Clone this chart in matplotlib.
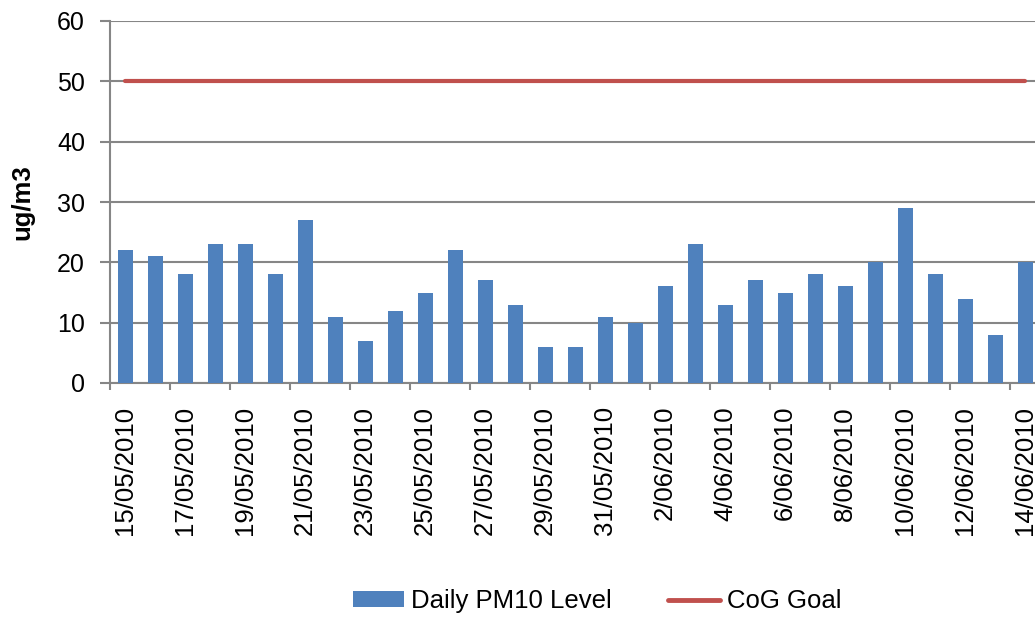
import matplotlib
matplotlib.use("Agg")
import matplotlib.pyplot as plt
from matplotlib.patches import Patch
from matplotlib.lines import Line2D

plt.rcParams['font.family'] = ['Liberation Sans', 'DejaVu Sans']

dates = ["15/05/2010", "16/05/2010", "17/05/2010", "18/05/2010", "19/05/2010",
         "20/05/2010", "21/05/2010", "22/05/2010", "23/05/2010", "24/05/2010",
         "25/05/2010", "26/05/2010", "27/05/2010", "28/05/2010", "29/05/2010",
         "30/05/2010", "31/05/2010", "1/06/2010", "2/06/2010", "3/06/2010",
         "4/06/2010", "5/06/2010", "6/06/2010", "7/06/2010", "8/06/2010",
         "9/06/2010", "10/06/2010", "11/06/2010", "12/06/2010", "13/06/2010",
         "14/06/2010"]
pm10 = [22, 21, 18, 23, 23, 18, 27, 11, 7, 12, 15, 22, 17, 13, 6, 6, 11, 10,
        16, 23, 13, 17, 15, 18, 16, 20, 29, 18, 14, 8, 20]
goal = [50] * len(dates)

bar_color = "#4F81BD"
line_color = "#C0504D"
grid_color = "#868686"

W, H = 1035, 617
fig = plt.figure(figsize=(W / 100, H / 100), dpi=100)
left, right, bottom, top = 110, 1040, 383, 21
ax = fig.add_axes([left / W, (H - bottom) / H, (right - left) / W, (bottom - top) / H])

x = list(range(len(dates)))
ax.bar(x, pm10, width=0.5, color=bar_color, zorder=3)
ax.plot(x, goal, color=line_color, lw=3, solid_capstyle='round', zorder=4)

ax.set_xlim(-0.5, len(dates) - 0.5)
ax.set_ylim(0, 60)
ax.set_yticks(range(0, 61, 10))
ax.yaxis.grid(True, color=grid_color, lw=1.5, zorder=0)
ax.set_axisbelow(True)

for s in ['top', 'right']:
    ax.spines[s].set_visible(False)
for s in ['left', 'bottom']:
    ax.spines[s].set_color(grid_color)
    ax.spines[s].set_linewidth(1.5)

ax.tick_params(axis='y', which='both', length=7, width=1.5, color=grid_color,
               labelsize=18, pad=11)
# major ticks at category boundaries every 2 categories (no labels)
ax.set_xticks([i - 0.5 for i in range(0, len(dates) + 1, 2)])
ax.set_xticklabels([])
ax.tick_params(axis='x', which='major', length=5, width=1.5, color=grid_color)
# labels at every second category centre
ax.set_xticks(x[::2], minor=True)
ax.set_xticklabels(dates[::2], minor=True, rotation=90, fontsize=18.5)
ax.tick_params(axis='x', which='minor', length=0, pad=16.5)

ax.set_ylabel("ug/m3", fontsize=18.5, fontweight='bold', labelpad=16)

handles = [Patch(facecolor=bar_color, edgecolor='none'),
           Line2D([0], [0], color=line_color, lw=3.5, solid_capstyle='round')]
fig.legend(handles, ["Daily PM10 Level", "CoG Goal"], loc='center',
           bbox_to_anchor=(597 / W, (H - 601) / H), ncol=2, frameon=False,
           fontsize=18.5, handlelength=2.0, handleheight=0.55, handletextpad=0.27,
           columnspacing=2.2, borderpad=0.2)

fig.savefig("out.png", dpi=100)
